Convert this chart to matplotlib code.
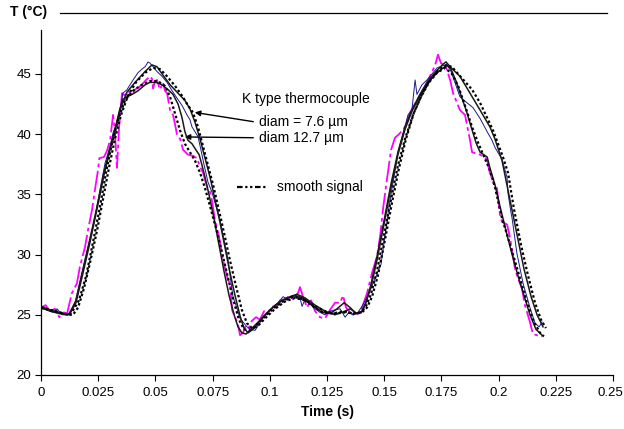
import matplotlib
matplotlib.use("Agg")
import matplotlib.pyplot as plt
import matplotlib.transforms as mtransforms
from matplotlib.lines import Line2D

plt.rcParams['font.family'] = ['Liberation Sans', 'DejaVu Sans']

# ---- data (time in s, temperature in °C) ----
magenta_127 = [(0.000,25.6),(0.002,25.8),(0.004,25.3),(0.006,25.5),(0.008,24.8),(0.010,25.2),(0.0114,25.1),(0.0135,26.8),(0.0157,27.6),(0.0170,29.0),(0.0192,30.6),(0.0205,32.0),(0.0223,33.7),(0.0236,35.4),(0.0249,37.0),(0.0255,38.0),(0.0275,38.1),(0.0288,38.6),(0.0302,39.5),(0.0315,41.6),(0.0323,40.2),(0.0332,37.2),(0.0341,40.5),(0.0354,43.4),(0.0367,43.2),(0.0380,43.6),(0.0398,43.3),(0.0411,43.7),(0.0428,43.9),(0.0441,44.1),(0.0459,44.5),(0.0476,44.8),(0.0485,44.6),(0.0490,43.8),(0.0498,44.4),(0.0507,44.5),(0.0520,43.7),(0.0533,44.3),(0.0542,43.6),(0.0551,43.4),(0.0564,42.0),(0.0577,41.6),(0.0586,40.8),(0.0594,40.0),(0.0608,39.6),(0.0621,38.7),(0.0642,38.3),(0.0664,38.2),(0.0682,38.0),(0.0695,37.3),(0.0708,36.8),(0.0726,35.6),(0.0739,35.2),(0.0747,34.5),(0.0760,32.9),(0.0778,31.5),(0.0795,29.6),(0.0817,27.9),(0.0826,27.6),(0.0835,25.4),(0.0848,24.8),(0.0861,24.2),(0.0870,23.3),(0.0883,23.5),(0.0892,24.0),(0.0905,23.8),(0.0922,24.5),(0.0940,24.8),(0.0957,24.6),(0.0975,25.3),(0.0992,25.2),(0.1010,25.7),(0.1027,25.6),(0.1045,26.2),(0.1066,26.3),(0.1088,26.6),(0.1101,26.3),(0.1123,26.8),(0.1132,27.3),(0.1145,26.5),(0.1163,25.6),(0.1180,26.2),(0.1198,25.3),(0.1219,24.8),(0.1241,24.7),(0.1263,25.4),(0.1285,26.0),(0.1307,26.0),(0.1320,26.6),(0.1333,25.6),(0.1351,25.2),(0.1372,24.9),(0.1394,25.2),(0.1407,25.8),(0.1425,26.8),(0.1447,28.5),(0.1468,29.8),(0.1482,31.5),(0.1495,33.8),(0.1508,35.7),(0.1521,37.5),(0.1530,38.7),(0.1547,39.7),(0.1565,40.0),(0.1591,40.6),(0.1613,41.8),(0.1643,42.8),(0.1670,43.7),(0.1700,44.8),(0.1722,45.7),(0.1735,46.6),(0.1748,45.9),(0.1770,45.6),(0.1788,44.5),(0.1801,43.4),(0.1831,42.0),(0.1853,41.6),(0.1875,39.5),(0.1884,38.5),(0.1919,38.3),(0.1950,37.9),(0.1960,36.9),(0.1980,35.8),(0.1993,35.5),(0.2006,33.3),(0.2015,32.7),(0.2037,32.5),(0.2050,31.4),(0.2059,30.3),(0.2072,28.8),(0.2085,28.0),(0.2102,27.2),(0.2115,25.8),(0.2137,24.4),(0.2150,23.4),(0.2168,23.3),(0.2190,23.2)]

blue_76 = [(0.000,25.5),(0.0031,25.4),(0.0052,25.2),(0.0070,25.5),(0.0092,25.0),(0.0118,25.0),(0.0135,25.5),(0.0149,26.0),(0.0179,28.5),(0.0205,30.6),(0.0236,33.1),(0.0258,35.4),(0.0280,37.6),(0.0302,39.0),(0.0315,40.1),(0.0337,41.2),(0.0350,42.5),(0.0358,43.4),(0.0376,43.7),(0.0389,44.1),(0.0406,44.6),(0.0424,45.1),(0.0441,45.4),(0.0455,45.6),(0.0468,46.0),(0.0476,45.9),(0.0490,45.6),(0.0507,45.2),(0.0529,44.8),(0.0551,44.3),(0.0573,43.6),(0.0594,43.0),(0.0616,42.4),(0.0638,41.6),(0.0651,41.2),(0.0660,40.6),(0.0673,40.2),(0.0686,39.8),(0.0699,38.7),(0.0712,37.5),(0.0730,36.0),(0.0747,35.2),(0.0765,34.0),(0.0782,32.9),(0.0800,31.2),(0.0817,29.6),(0.0826,28.3),(0.0839,26.5),(0.0852,25.8),(0.0870,24.7),(0.0883,24.4),(0.0900,24.0),(0.0918,23.8),(0.0935,23.7),(0.0953,24.2),(0.0970,24.8),(0.0992,25.2),(0.1014,25.6),(0.1036,26.0),(0.1058,26.5),(0.1080,26.3),(0.1097,26.6),(0.1119,26.5),(0.1132,26.4),(0.1141,25.7),(0.1154,26.3),(0.1176,25.9),(0.1198,25.5),(0.1219,25.2),(0.1241,25.0),(0.1263,25.3),(0.1285,25.4),(0.1307,25.5),(0.1329,24.8),(0.1346,25.2),(0.1364,25.0),(0.1385,25.2),(0.1403,25.7),(0.1420,26.3),(0.1433,26.8),(0.1460,28.0),(0.1486,29.2),(0.1503,31.5),(0.1521,34.0),(0.1543,36.5),(0.1560,38.5),(0.1582,40.0),(0.1604,41.6),(0.1621,42.0),(0.1635,44.5),(0.1643,43.3),(0.1665,44.1),(0.1687,44.5),(0.1709,45.0),(0.1731,45.5),(0.1757,45.7),(0.1774,45.8),(0.1792,45.2),(0.1809,44.3),(0.1831,43.1),(0.1862,42.6),(0.1888,42.2),(0.1919,41.3),(0.1950,40.2),(0.1971,39.5),(0.1984,38.9),(0.2015,37.9),(0.2037,36.4),(0.2041,35.1),(0.2054,33.5),(0.2059,33.0),(0.2080,30.1),(0.2107,27.6),(0.2137,25.6),(0.2159,24.3),(0.2177,24.0),(0.2190,24.4)]

black_a = [(0.000,25.6),(0.004,25.3),(0.008,25.1),(0.0118,25.0),(0.0127,25.1),(0.0153,26.0),(0.0184,28.5),(0.0214,31.0),(0.0245,33.8),(0.0275,36.6),(0.0306,39.0),(0.0328,40.6),(0.0345,42.0),(0.0376,43.5),(0.0411,44.3),(0.0455,45.2),(0.0485,45.75),(0.0507,45.6),(0.0533,44.9),(0.0564,44.1),(0.0599,43.4),(0.0629,42.8),(0.0651,42.1),(0.0673,41.0),(0.0695,39.6),(0.0717,38.0),(0.0739,36.4),(0.0760,34.6),(0.0782,32.7),(0.0804,30.6),(0.0826,28.5),(0.0848,26.6),(0.0870,24.9),(0.0887,23.9),(0.0905,23.5),(0.0927,23.8),(0.0957,24.5),(0.1001,25.4),(0.1045,26.1),(0.1088,26.5),(0.1119,26.7),(0.1154,26.4),(0.1198,25.8),(0.1241,25.3),(0.1285,25.0),(0.1329,25.3),(0.1351,25.5),(0.1381,25.1),(0.1403,25.3),(0.1420,26.0),(0.1442,27.5),(0.1468,29.8),(0.1499,32.8),(0.1530,35.9),(0.1560,38.5),(0.1591,40.6),(0.1621,42.0),(0.1656,43.3),(0.1691,44.4),(0.1726,45.2),(0.1757,45.8),(0.1770,46.0),(0.1788,45.6),(0.1831,44.8),(0.1875,43.4),(0.1919,42.0),(0.1962,40.6),(0.1984,39.6),(0.2015,37.8),(0.2050,34.5),(0.2080,31.7),(0.2111,28.8),(0.2142,26.5),(0.2168,25.0),(0.2194,24.0)]

black_b = [(0.000,25.7),(0.004,25.4),(0.008,25.2),(0.0118,25.0),(0.0127,25.2),(0.0153,26.2),(0.0184,28.8),(0.0214,31.3),(0.0245,34.0),(0.0275,36.8),(0.0306,39.2),(0.0328,40.8),(0.0345,42.1),(0.0358,42.9),(0.0376,43.1),(0.0398,43.3),(0.0424,43.6),(0.0455,44.1),(0.0476,44.3),(0.0503,44.3),(0.0529,44.1),(0.0555,43.7),(0.0577,43.3),(0.0599,42.5),(0.0616,41.4),(0.0629,40.2),(0.0642,39.5),(0.0660,39.2),(0.0677,38.7),(0.0691,38.3),(0.0704,37.4),(0.0717,36.4),(0.0734,35.0),(0.0756,33.0),(0.0778,30.8),(0.0800,28.6),(0.0822,26.6),(0.0844,25.0),(0.0861,24.0),(0.0878,23.5),(0.0896,23.4),(0.0913,23.7),(0.0944,24.3),(0.0979,25.0),(0.1023,25.8),(0.1066,26.3),(0.1110,26.6),(0.1145,26.4),(0.1184,25.8),(0.1228,25.2),(0.1263,25.1),(0.1294,25.5),(0.1325,26.0),(0.1351,25.6),(0.1377,25.1),(0.1399,25.2),(0.1416,25.8),(0.1442,27.3),(0.1468,29.5),(0.1499,32.5),(0.1530,35.6),(0.1560,38.3),(0.1591,40.4),(0.1621,41.9),(0.1656,43.2),(0.1691,44.3),(0.1726,45.0),(0.1757,45.5),(0.1774,45.7),(0.1792,45.4),(0.1814,44.4),(0.1836,43.2),(0.1858,42.0),(0.1880,40.6),(0.1901,39.3),(0.1919,38.5),(0.1950,38.1),(0.1962,37.2),(0.1984,35.8),(0.2006,34.0),(0.2032,32.0),(0.2059,30.0),(0.2085,28.2),(0.2111,26.6),(0.2137,25.0),(0.2163,23.8),(0.2190,23.3)]

smooth_r = [(0.000,25.6),(0.004,25.4),(0.008,25.2),(0.012,25.0),(0.0140,25.0),(0.0162,25.6),(0.0188,27.2),(0.0214,29.3),(0.0245,32.0),(0.0271,34.6),(0.0297,37.2),(0.0323,39.6),(0.0350,41.6),(0.0380,43.2),(0.0415,44.3),(0.0455,45.1),(0.0490,45.5),(0.0520,45.4),(0.0551,44.8),(0.0586,44.0),(0.0616,43.2),(0.0642,42.4),(0.0664,41.8),(0.0686,40.6),(0.0708,39.0),(0.0730,37.4),(0.0752,35.8),(0.0774,34.0),(0.0800,31.8),(0.0826,29.5),(0.0852,27.4),(0.0878,25.4),(0.0900,24.3),(0.0922,23.9),(0.0944,24.0),(0.0979,24.7),(0.1023,25.5),(0.1066,26.1),(0.1110,26.4),(0.1154,26.2),(0.1198,25.7),(0.1241,25.3),(0.1285,25.1),(0.1329,25.2),(0.1372,25.1),(0.1403,25.2),(0.1425,25.6),(0.1447,26.5),(0.1473,28.3),(0.1503,31.2),(0.1534,34.3),(0.1565,37.2),(0.1595,39.6),(0.1630,41.8),(0.1665,43.3),(0.1700,44.5),(0.1735,45.3),(0.1770,45.7),(0.1796,45.6),(0.1823,45.0),(0.1884,43.7),(0.1919,42.6),(0.1976,40.3),(0.2019,38.1),(0.2041,36.8),(0.2067,33.8),(0.2098,30.8),(0.2128,28.3),(0.2159,26.0),(0.2185,24.6),(0.2207,23.9)]

smooth_l = [(0.000,25.6),(0.004,25.4),(0.008,25.2),(0.012,25.0),(0.0135,25.2),(0.0166,26.2),(0.0197,28.2),(0.0227,31.0),(0.0258,34.0),(0.0284,36.8),(0.0310,39.2),(0.0337,41.2),(0.0367,42.8),(0.0402,43.6),(0.0441,44.1),(0.0476,44.4),(0.0511,44.4),(0.0542,44.0),(0.0564,43.1),(0.0586,41.7),(0.0608,40.3),(0.0629,39.2),(0.0651,38.5),(0.0673,37.8),(0.0695,36.8),(0.0717,35.5),(0.0739,34.0),(0.0765,32.2),(0.0791,30.2),(0.0817,28.1),(0.0844,26.0),(0.0865,24.6),(0.0887,23.8),(0.0909,23.7),(0.0935,24.0),(0.0970,24.7),(0.1014,25.5),(0.1058,26.1),(0.1101,26.5),(0.1145,26.3),(0.1189,25.7),(0.1233,25.2),(0.1276,25.1),(0.1320,25.3),(0.1364,25.1),(0.1399,25.2),(0.1420,25.7),(0.1442,26.7),(0.1468,28.6),(0.1499,31.6),(0.1530,34.6),(0.1560,37.4),(0.1591,39.6),(0.1626,41.6),(0.1661,43.1),(0.1696,44.3),(0.1731,45.1),(0.1766,45.5),(0.1796,45.0),(0.1823,44.0),(0.1849,42.6),(0.1884,40.6),(0.1910,39.3),(0.1962,37.0),(0.1984,35.6),(0.2015,33.0),(0.2041,31.4),(0.2063,30.0),(0.2094,28.0),(0.2124,26.0),(0.2155,24.4),(0.2181,23.5),(0.2198,23.2)]

x_ticks = [0, 0.025, 0.05, 0.075, 0.1, 0.125, 0.15, 0.175, 0.2, 0.225, 0.25]
x_tick_labels = ["0", "0.025", "0.05", "0.075", "0.1", "0.125", "0.15", "0.175", "0.2", "0.225", "0.25"]
y_ticks = [20, 25, 30, 35, 40, 45]


def split(pairs):
    return [p[0] for p in pairs], [p[1] for p in pairs]


fig = plt.figure(figsize=(6.24, 4.29), dpi=100)
ax = fig.add_axes([0.0657, 0.1259, 0.9167, 0.8042])

t, v = split(blue_76)
ax.plot(t, v, color='#1a1a8c', lw=0.7, zorder=3)
t, v = split(magenta_127)
ax.plot(t, v, color='#ff00ff', lw=1.3, linestyle=(0, (12, 2, 2, 2)), zorder=2)
t, v = split(black_a)
ax.plot(t, v, color='#1a1a1a', lw=1.1, zorder=4)
t, v = split(black_b)
ax.plot(t, v, color='#1a1a1a', lw=1.1, zorder=4)
t, v = split(smooth_r)
ax.plot(t, v, color='black', lw=1.6, linestyle=(0, (1.1, 1.1)), zorder=5)
t, v = split(smooth_l)
ax.plot(t, v, color='black', lw=1.6, linestyle=(0, (1.1, 1.1)), zorder=5)

ax.set_xlim(0, 0.25)
ax.set_ylim(20, 48.65)
ax.set_xticks(x_ticks)
ax.set_xticklabels(x_tick_labels)
ax.set_yticks(y_ticks)
ax.tick_params(axis='both', direction='out', length=4, width=0.8, labelsize=9.5, colors='black')
ax.tick_params(axis='x', pad=5)
ax.tick_params(axis='y', pad=3)
for s in ['top', 'right']:
    ax.spines[s].set_visible(False)
for s in ['left', 'bottom']:
    ax.spines[s].set_linewidth(0.9)

# keep the last tick label inside the canvas
last = ax.get_xticklabels()[-1]
last.set_transform(last.get_transform() +
                   mtransforms.ScaledTranslation(-3 / 100, 0, fig.dpi_scale_trans))

ax.set_xlabel('Time (s)', fontsize=10, fontweight='bold', labelpad=4)
fig.text(0.016, 0.972, 'T (°C)', fontsize=10, fontweight='bold', ha='left', va='center')
fig.add_artist(Line2D([0.096, 0.973], [0.970, 0.970], color='black', lw=0.9))

# annotations
ax.text(0.0879, 42.9, 'K type thermocouple', fontsize=10, ha='left', va='center')
ax.text(0.0953, 41.0, 'diam = 7.6 µm', fontsize=10, ha='left', va='center')
ax.text(0.0953, 39.7, 'diam 12.7 µm', fontsize=10, ha='left', va='center')
ax.annotate('', xy=(0.0660, 41.84), xytext=(0.0940, 41.0),
            arrowprops=dict(arrowstyle='-|>', color='black', lw=1.0, mutation_scale=8))
ax.annotate('', xy=(0.0616, 39.77), xytext=(0.0940, 39.7),
            arrowprops=dict(arrowstyle='-|>', color='black', lw=1.0, mutation_scale=8))
ax.plot([0.0857, 0.0988], [35.6, 35.6], color='black', lw=1.6,
        linestyle=(0, (2.5, 1.2, 1.0, 1.2, 1.0, 1.2)))
ax.text(0.1031, 35.65, 'smooth signal', fontsize=10, ha='left', va='center')

fig.savefig('out.png', dpi=100)
